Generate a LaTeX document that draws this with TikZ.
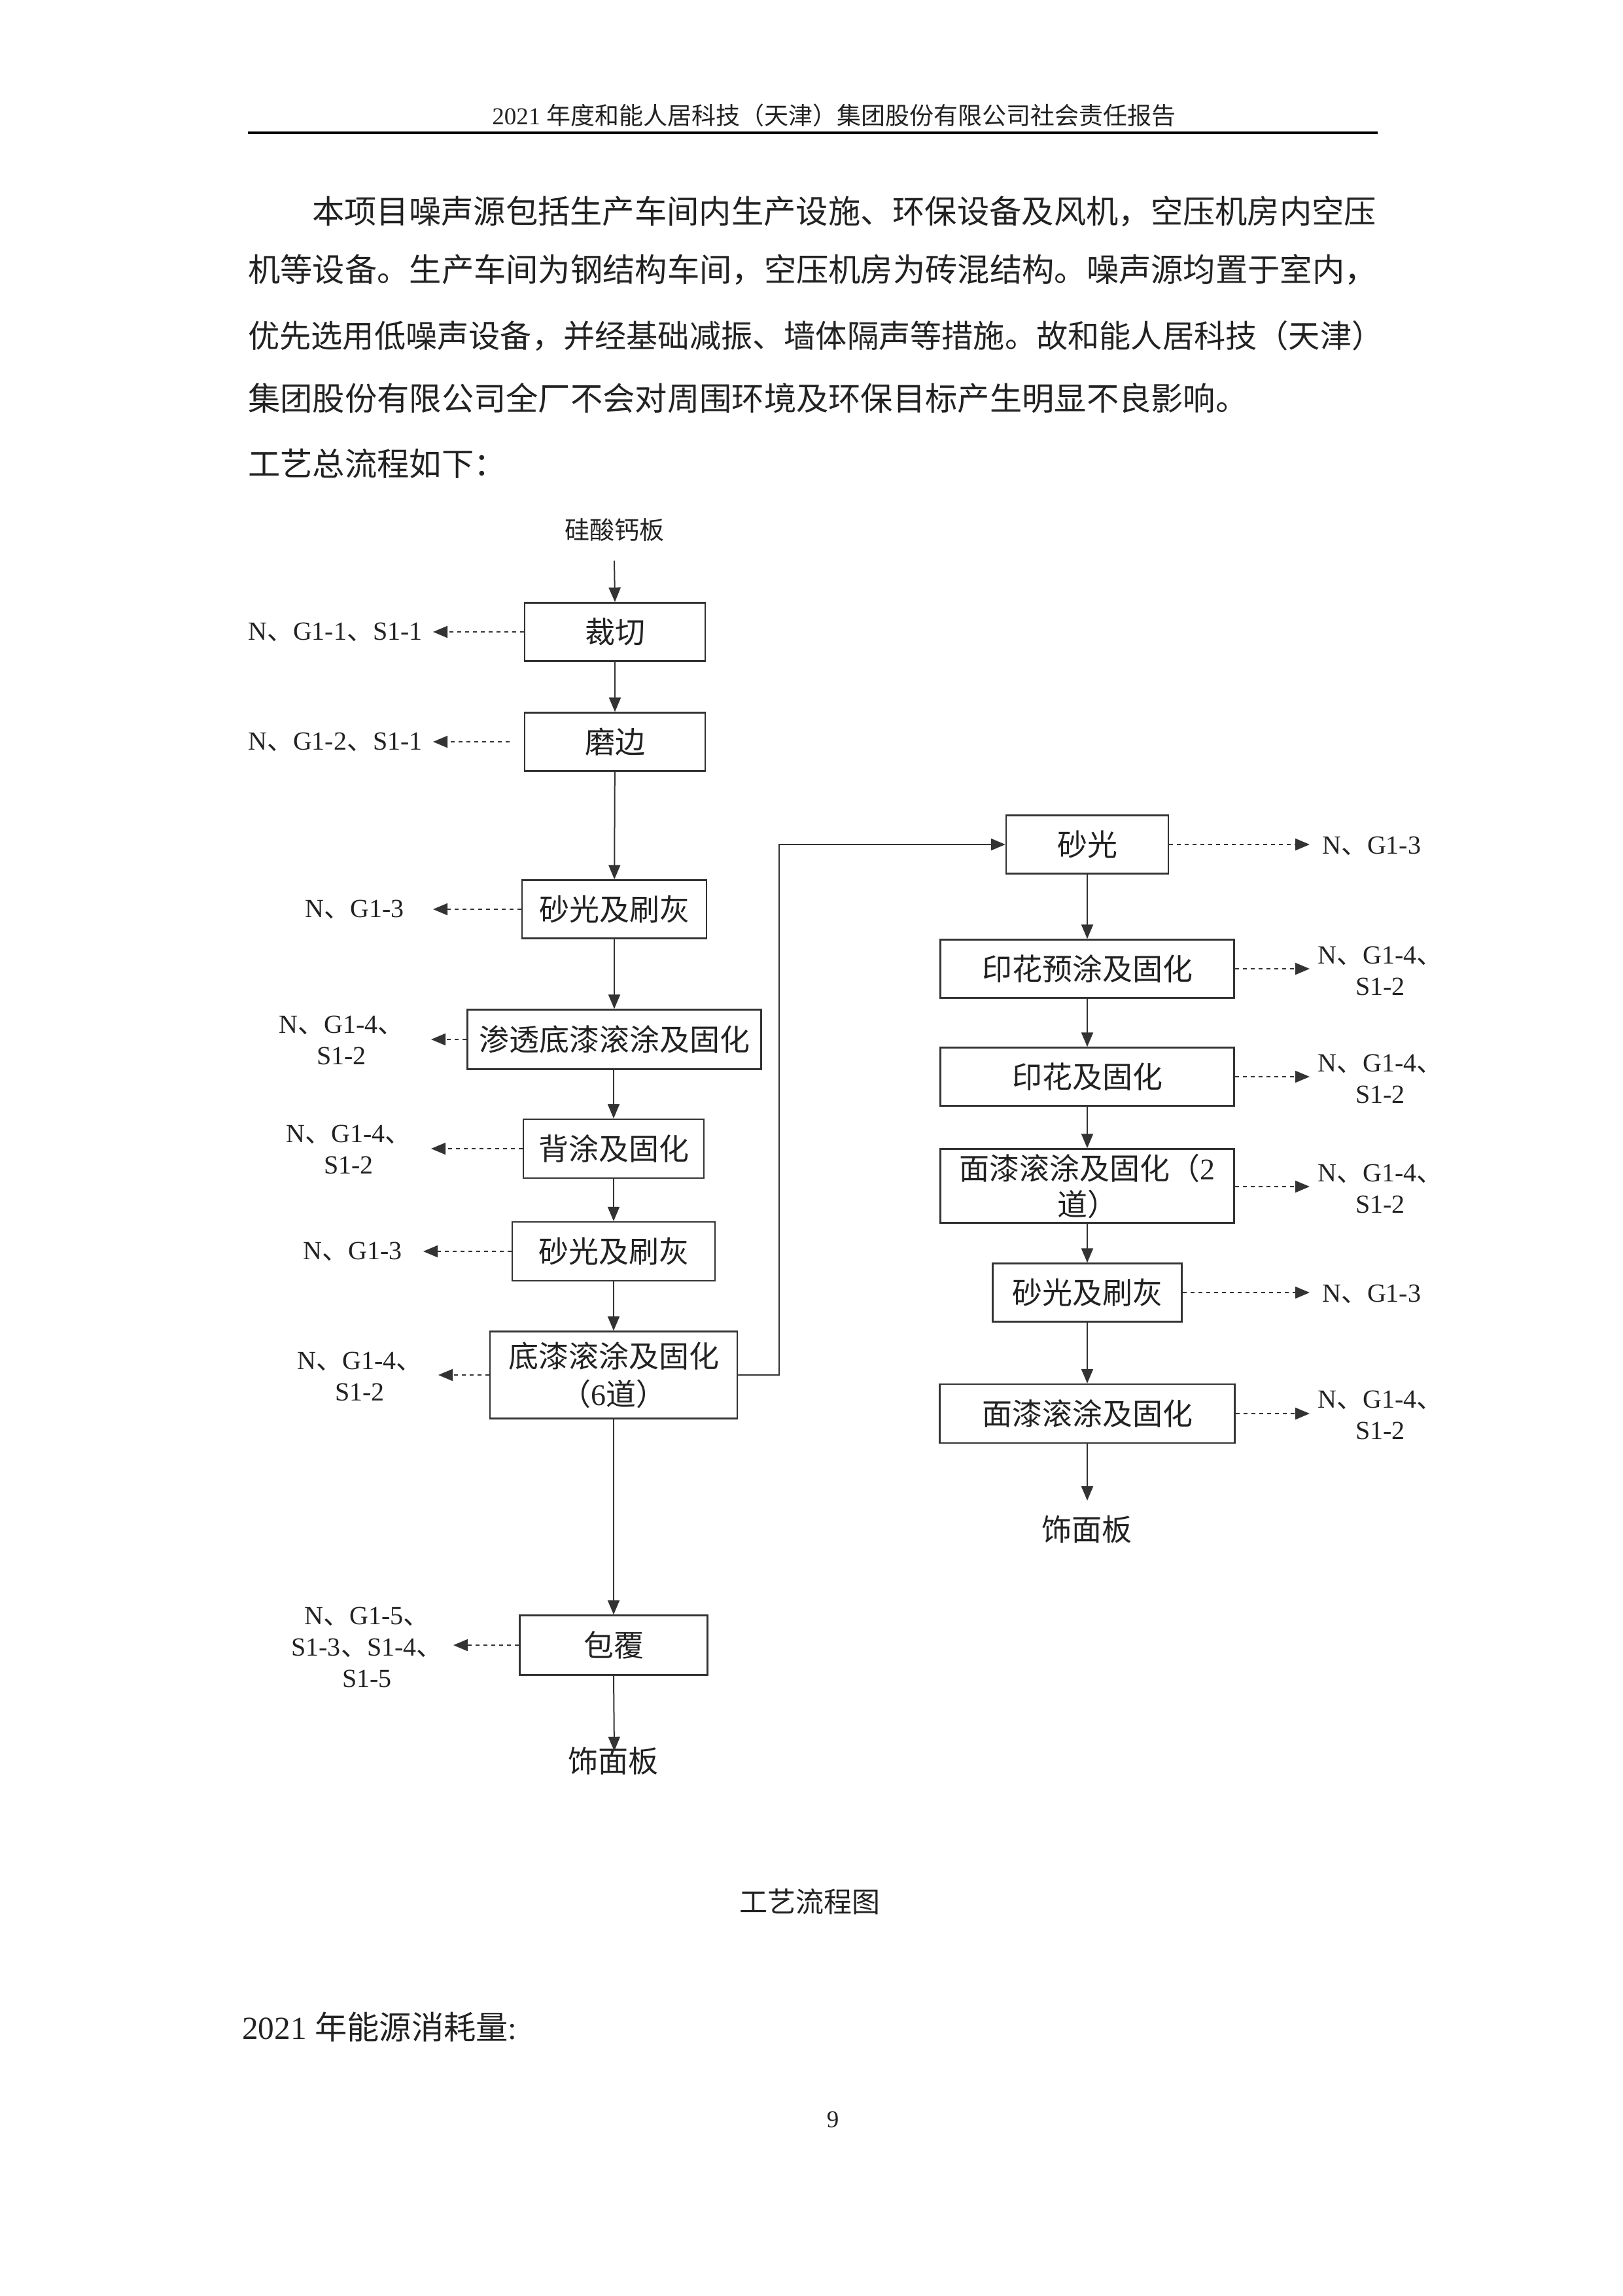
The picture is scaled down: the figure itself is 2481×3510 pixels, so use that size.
\documentclass[tikz,border=0pt]{standalone}
\usepackage{fontspec}
\setmainfont{Liberation Serif}
\newfontfamily\cjk{Noto Sans CJK SC}
\usetikzlibrary{arrows.meta}
\newcommand\dn{{\cjk 、}}
\newcommand\fsz[2]{\fontsize{#1}{#2}\selectfont}
\newcommand\latn[1]{{\rmfamily #1}}
\definecolor{ink}{HTML}{222222}
\definecolor{stroke}{HTML}{333333}
\begin{document}
\begin{tikzpicture}[x=1pt,y=-1pt,
  box/.style={draw=stroke,line width=2.4pt,inner sep=0pt,align=center,text=ink,font=\fsz{46}{58}\cjk},
  lbl/.style={inner sep=0pt,align=center,text=ink,font=\fsz{40}{48}\rmfamily},
  txt/.style={inner sep=0pt,text=ink},
  flow/.style={draw=stroke,line width=2pt,-{Triangle[length=22pt,width=18pt]}},
  emit/.style={draw=stroke,line width=2pt,dash pattern=on 6pt off 6pt,-{Triangle[length=22pt,width=18pt]}},
]
\fill[white] (0,0) rectangle (2481,3510);
\useasboundingbox (0,0) rectangle (2481,3510);

% header
\node[txt,font=\fsz{37}{37}] (hd) at (1275,176) {2021 {\cjk 年度和能人居科技（天津）集团股份有限公司社会责任报告}};
\coordinate (rl) at (379,203);
\coordinate (rr) at (2106,203);
\draw[stroke,line width=3.5pt] (rl) -- (rr);

% paragraph
\node[txt,anchor=west,font=\fsz{49.3}{49.3}\cjk] (p1) at (477,323) {本项目噪声源包括生产车间内生产设施、环保设备及风机，空压机房内空压};
\node[txt,anchor=west,font=\fsz{49.3}{49.3}\cjk] (p2) at (379,412) {机等设备。生产车间为钢结构车间，空压机房为砖混结构。噪声源均置于室内，};
\node[txt,anchor=west,font=\fsz{48.2}{48.2}\cjk] (p3) at (379,513) {优先选用低噪声设备，并经基础减振、墙体隔声等措施。故和能人居科技（天津）};
\node[txt,anchor=west,font=\fsz{49.3}{49.3}\cjk] (p4) at (379,609) {集团股份有限公司全厂不会对周围环境及环保目标产生明显不良影响。};
\node[txt,anchor=west,font=\fsz{49.3}{49.3}\cjk] (p5) at (379,709) {工艺总流程如下：};

% left column
\node[txt,font=\fsz{38}{38}\cjk] (src) at (939,810) {硅酸钙板};
\coordinate (s0) at (939,857);
\node[box,minimum width=276pt,minimum height=89pt] (b1) at (940,966) {裁切};
\node[box,minimum width=276pt,minimum height=89pt] (b2) at (940,1134) {磨边};
\node[box,minimum width=282pt,minimum height=89pt] (b3) at (939,1390) {砂光及刷灰};
\node[box,minimum width=449pt,minimum height=91pt] (b4) at (939,1589) {渗透底漆滚涂及固化};
\node[box,minimum width=276pt,minimum height=90pt] (b5) at (938,1756) {背涂及固化};
\node[box,minimum width=310pt,minimum height=90pt] (b6) at (938,1913) {砂光及刷灰};
\node[box,minimum width=378pt,minimum height=133pt] (b7) at (938,2102) {底漆滚涂及固化\\（\latn{6}道）};
\node[box,minimum width=287pt,minimum height=91pt] (b8) at (938,2515) {包覆};
\coordinate (e1) at (939,2677);
\node[txt,font=\fsz{46}{46}\cjk] (out1) at (937,2692) {饰面板};

\draw[flow] (s0) -- (b1.north);
\draw[flow] (b1) -- (b2);
\draw[flow] (b2) -- (b3);
\draw[flow] (b3) -- (b4);
\draw[flow] (b4.south -| b5.north) -- (b5.north);
\draw[flow] (b5) -- (b6);
\draw[flow] (b6) -- (b7);
\draw[flow] (b7) -- (b8);
\draw[flow] (b8.south) -- (e1);

% left emissions
\node[lbl,anchor=east] (l1) at (646,966) {N\dn G1-1\dn S1-1};
\node[lbl,anchor=east] (l2) at (646,1134) {N\dn G1-2\dn S1-1};
\node[lbl,anchor=east] (l3) at (618,1390) {N\dn G1-3};
\node[lbl] (l4) at (522,1590) {N\dn G1-4\dn\\S1-2};
\node[lbl] (l5) at (533,1757) {N\dn G1-4\dn\\S1-2};
\node[lbl,anchor=east] (l6) at (615,1913) {N\dn G1-3};
\node[lbl] (l7) at (550,2104) {N\dn G1-4\dn\\S1-2};
\node[lbl] (l8) at (561,2518) {N\dn G1-5\dn\\S1-3\dn S1-4\dn\\S1-5};
\coordinate (t1) at (662,966);
\coordinate (t2) at (662,1134);
\coordinate (t2s) at (779,1134);
\coordinate (t3) at (662,1390);
\coordinate (t4) at (659,1589);
\coordinate (t5) at (659,1756);
\coordinate (t6) at (647,1913);
\coordinate (t7) at (670,2102);
\coordinate (t8) at (693,2515);
\draw[emit] (b1.west) -- (t1);
\draw[emit] (t2s) -- (t2);
\draw[emit] (b3.west) -- (t3);
\draw[emit] (b4.west) -- (t4);
\draw[emit] (b5.west) -- (t5);
\draw[emit] (b6.west) -- (t6);
\draw[emit] (b7.west) -- (t7);
\draw[emit] (b8.west) -- (t8);

% right column
\node[box,minimum width=248pt,minimum height=89pt] (r1) at (1662,1291) {砂光};
\node[box,minimum width=449pt,minimum height=89pt] (r2) at (1662,1481) {印花预涂及固化};
\node[box,minimum width=449pt,minimum height=89pt] (r3) at (1662,1646) {印花及固化};
\node[box,minimum width=449pt,minimum height=113pt,font=\fsz{46}{55}\cjk] (r4) at (1662,1813) {面漆滚涂及固化（\latn{2}\\道）};
\node[box,minimum width=289pt,minimum height=89pt] (r5) at (1662,1976) {砂光及刷灰};
\node[box,minimum width=451pt,minimum height=90pt] (r6) at (1662,2161) {面漆滚涂及固化};
\coordinate (e2) at (1662,2294);
\node[txt,font=\fsz{46}{46}\cjk] (out2) at (1661,2338) {饰面板};

\coordinate (k) at (1191,1700);
\draw[flow] (b7.east) -- (b7.east -| k) -- (k |- r1.west) -- (r1.west);
\draw[flow] (r1) -- (r2);
\draw[flow] (r2) -- (r3);
\draw[flow] (r3) -- (r4);
\draw[flow] (r4) -- (r5);
\draw[flow] (r5) -- (r6);
\draw[flow] (r6.south) -- (e2);

% right emissions
\node[lbl,anchor=west] (q1) at (2021,1293) {N\dn G1-3};
\node[lbl] (q2) at (2110,1484) {N\dn G1-4\dn\\S1-2};
\node[lbl] (q3) at (2110,1649) {N\dn G1-4\dn\\S1-2};
\node[lbl] (q4) at (2110,1817) {N\dn G1-4\dn\\S1-2};
\node[lbl,anchor=west] (q5) at (2021,1978) {N\dn G1-3};
\node[lbl] (q6) at (2110,2163) {N\dn G1-4\dn\\S1-2};
\coordinate (u1) at (2002,1291);
\coordinate (u2) at (2002,1481);
\coordinate (u3) at (2002,1646);
\coordinate (u4) at (2002,1814);
\coordinate (u5) at (2002,1976);
\coordinate (u6) at (2002,2161);
\draw[emit] (r1.east) -- (u1);
\draw[emit] (r2.east) -- (u2);
\draw[emit] (r3.east) -- (u3);
\draw[emit] (r4.east |- u4) -- (u4);
\draw[emit] (r5.east) -- (u5);
\draw[emit] (r6.east) -- (u6);

% captions
\node[txt,font=\fsz{43}{43}\cjk] (cap) at (1238,2907) {工艺流程图};
\node[txt,anchor=west,font=\fsz{49.3}{49.3}] (en) at (370,3099) {2021 {\cjk 年能源消耗量}:};
\node[txt,font=\fsz{37}{37}] (pg) at (1273,3240) {9};
\end{tikzpicture}
\end{document}
